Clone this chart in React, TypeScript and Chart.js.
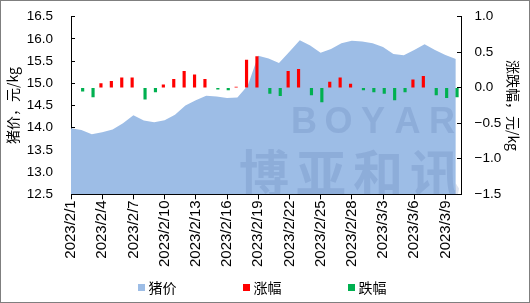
import React, { useEffect, useRef } from "react";
import { Chart, registerables } from "chart.js";

Chart.register(...registerables);

const dates = [
  "2023/2/1", "2023/2/2", "2023/2/3", "2023/2/4", "2023/2/5", "2023/2/6", "2023/2/7",
  "2023/2/8", "2023/2/9", "2023/2/10", "2023/2/11", "2023/2/12", "2023/2/13", "2023/2/14",
  "2023/2/15", "2023/2/16", "2023/2/17", "2023/2/18", "2023/2/19", "2023/2/20", "2023/2/21",
  "2023/2/22", "2023/2/23", "2023/2/24", "2023/2/25", "2023/2/26", "2023/2/27", "2023/2/28",
  "2023/3/1", "2023/3/2", "2023/3/3", "2023/3/4", "2023/3/5", "2023/3/6", "2023/3/7",
  "2023/3/8", "2023/3/9", "2023/3/10",
];

const price = [
  13.99, 13.95, 13.85, 13.9, 13.96, 14.1, 14.28, 14.16, 14.12, 14.17, 14.29, 14.5, 14.62,
  14.72, 14.7, 14.67, 14.68, 14.95, 15.62, 15.56, 15.46, 15.71, 15.97, 15.85, 15.69, 15.77,
  15.9, 15.96, 15.94, 15.9, 15.82, 15.66, 15.63, 15.75, 15.88, 15.75, 15.64, 15.55,
];

const rise = [
  null, null, null, 0.06, 0.09, 0.14, 0.14, null, null, 0.04, 0.12, 0.23, 0.18, 0.12, null,
  null, 0.01, 0.39, 0.44, null, null, 0.23, 0.26, null, null, 0.08, 0.14, 0.05, null, null,
  null, null, null, 0.11, 0.16, null, null, null,
];

const fall = [
  null, -0.05, -0.13, null, null, null, null, -0.16, -0.06, null, null, null, null, null,
  -0.02, -0.03, null, null, null, -0.08, -0.11, null, null, -0.1, -0.2, null, null, null,
  -0.03, -0.06, -0.08, -0.17, -0.06, null, null, -0.1, -0.14, -0.13,
];

const seriesNames = ["猪价", "涨幅", "跌幅"];
const priceRange = { min: 12.5, max: 16.5, step: 0.5 };
const changeRange = { min: -1.5, max: 1.0, step: 0.5 };
const labelEvery = 3;
const watermarkLatin = ["B", "O", "Y", "A", "R"];
const watermarkCjk = ["博", "亚", "和", "讯"];

export default function App() {
  const ref = useRef<HTMLCanvasElement>(null);

  useEffect(() => {
    if (!ref.current) return;
    const latin = '"Liberation Sans", Arial, sans-serif';
    const cjk = '"Noto Sans CJK SC", "Noto Sans", sans-serif';

    const legendPlugin = {
      id: "boxLegend",
      afterDraw(chart: any) {
        const ctx = chart.ctx as CanvasRenderingContext2D;
        ctx.save();
        ctx.font = `14px ${cjk}`;
        ctx.textBaseline = "middle";
        ctx.textAlign = "left";
        chart.data.datasets.forEach((ds: any, i: number) => {
          const bx = 137 + i * 105;
          const cy = 286.5;
          ctx.fillStyle = ds.backgroundColor;
          ctx.fillRect(bx, cy - 3.5, 7, 7);
          ctx.fillStyle = "#000";
          ctx.fillText(ds.label, bx + 10.5, cy);
        });
        ctx.restore();
      },
    };

    const watermarkPlugin = {
      id: "watermark",
      afterDatasetsDraw(chart: any) {
        const ctx = chart.ctx as CanvasRenderingContext2D;
        const a = chart.chartArea;
        ctx.save();
        ctx.beginPath();
        ctx.rect(a.left, a.top, a.right - a.left, a.bottom - a.top);
        ctx.clip();
        ctx.fillStyle = "rgba(70,100,160,0.18)";
        ctx.textAlign = "center";
        ctx.textBaseline = "middle";
        ctx.font = `bold 36px ${latin}`;
        watermarkLatin.forEach((ch, i) => ctx.fillText(ch, 303 + i * 34.5, 122.5));
        ctx.font = `bold 50px ${cjk}`;
        watermarkCjk.forEach((ch, i) => ctx.fillText(ch, 263 + i * 57, 172));
        ctx.restore();
      },
    };

    const fmt = (v: number) => (v < 0 ? "\u2212" + Math.abs(v).toFixed(1) : v.toFixed(1));

    const chart = new Chart(ref.current, {
      type: "bar",
      data: {
        datasets: [
          {
            type: "line",
            label: seriesNames[0],
            data: price.map((y, i) => ({ x: i, y })),
            yAxisID: "y",
            backgroundColor: "#9DBDE6",
            borderColor: "rgba(0,0,0,0)",
            borderWidth: 0,
            pointRadius: 0,
            fill: "start",
            tension: 0,
            order: 2,
          } as any,
          {
            type: "bar",
            label: seriesNames[1],
            data: rise.map((y, i) => ({ x: i, y })),
            yAxisID: "y1",
            backgroundColor: "#FF0000",
            barThickness: 2.5,
            order: 1,
          } as any,
          {
            type: "bar",
            label: seriesNames[2],
            data: fall.map((y, i) => ({ x: i, y })),
            yAxisID: "y1",
            backgroundColor: "#00B050",
            barThickness: 2.5,
            order: 1,
          } as any,
        ],
      },
      options: {
        responsive: false,
        animation: false,
        events: [],
        layout: { padding: { top: 15.7, left: 0, right: 0, bottom: 0 } },
        plugins: {
          legend: { display: false },
          tooltip: { enabled: false },
        },
        scales: {
          x: {
            type: "linear",
            offset: false,
            min: 0,
            max: dates.length - 0.5,
            afterBuildTicks: (s: any) => {
              s.ticks = dates
                .map((_, i) => i)
                .filter((i) => i % labelEvery === 0)
                .map((v) => ({ value: v }));
            },
            afterFit: (s: any) => {
              s.height = 107.7;
              s.paddingLeft = 0;
              s.paddingRight = 0;
            },
            ticks: {
              autoSkip: false,
              minRotation: 90,
              maxRotation: 90,
              padding: 1,
              color: "#000",
              font: { family: latin, size: 15 },
              callback: (v: any) => dates[v as number] ?? "",
            },
            grid: {
              offset: false,
              drawOnChartArea: false,
              drawTicks: true,
              tickLength: 5,
              tickColor: "#000",
              tickWidth: 1,
            },
            border: { color: "#000", width: 1 },
          },
          y: {
            type: "linear",
            position: "left",
            min: priceRange.min,
            max: priceRange.max,
            afterFit: (s: any) => {
              s.width = 70;
              s.paddingTop = 0;
              s.paddingBottom = 0;
            },
            ticks: {
              stepSize: priceRange.step,
              padding: 22,
              color: "#000",
              font: { family: latin, size: 13.5 },
              callback: (v: any) => fmt(Number(v)),
            },
            grid: { drawOnChartArea: false, drawTicks: true, tickLength: -4, tickColor: "#000", tickWidth: 1 },
            border: { color: "#000", width: 1 },
            title: {
              display: true,
              text: "猪价，元/kg",
              color: "#000",
              font: { family: cjk, size: 14 },
              padding: { top: 3.6, bottom: 0 },
            },
          },
          y1: {
            type: "linear",
            position: "right",
            min: changeRange.min,
            max: changeRange.max,
            afterFit: (s: any) => {
              s.width = 68;
              s.paddingTop = 0;
              s.paddingBottom = 0;
            },
            ticks: {
              stepSize: changeRange.step,
              padding: 17.5,
              color: "#000",
              font: { family: latin, size: 13.5 },
              callback: (v: any) => fmt(Number(v)),
            },
            grid: { drawOnChartArea: false, drawTicks: true, tickLength: -4, tickColor: "#000", tickWidth: 1 },
            border: { color: "#000", width: 1 },
            title: {
              display: true,
              text: "涨跌幅，元/kg",
              color: "#000",
              font: { family: cjk, size: 14 },
              padding: { top: 7.6, bottom: 0 },
            },
          },
        },
      } as any,
      plugins: [watermarkPlugin, legendPlugin],
    });

    return () => chart.destroy();
  }, []);

  return (
    <div
      style={{
        position: "fixed",
        left: 0,
        top: 0,
        width: 530,
        height: 303,
        boxSizing: "border-box",
        border: "1px solid #7f7f7f",
        background: "#fff",
      }}
    >
      <canvas ref={ref} width={528} height={301} style={{ display: "block", width: 528, height: 301 }} />
    </div>
  );
}
